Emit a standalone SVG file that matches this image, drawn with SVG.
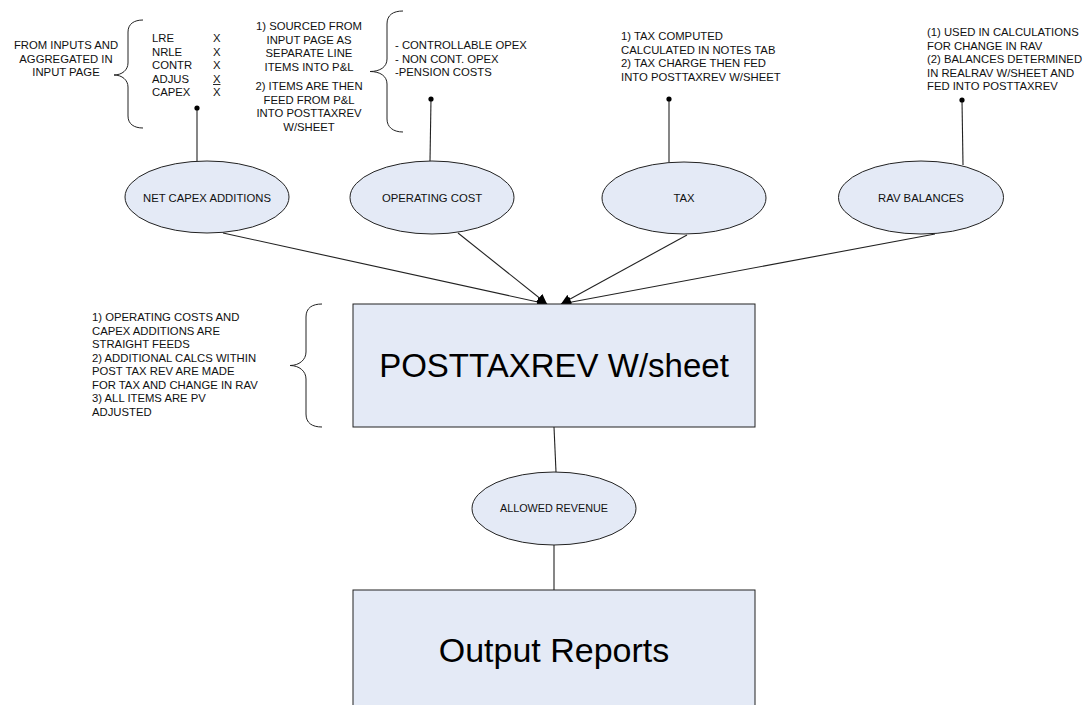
<svg xmlns="http://www.w3.org/2000/svg" width="1088" height="705" viewBox="0 0 1088 705">
<defs>
<style>
.t{font-family:"Liberation Sans",Arial,sans-serif;font-size:11.3px;fill:#111}
.big{font-family:"Liberation Sans",Arial,sans-serif;font-size:33px;fill:#000}
.node{fill:#e4eaf6;stroke:#222;stroke-width:1}
.ln{stroke:#222;stroke-width:1.1;fill:none}
.br{stroke:#222;stroke-width:1;fill:none}
</style>
<marker id="ah" viewBox="0 0 10 10" refX="10" refY="5" markerWidth="10" markerHeight="10" markerUnits="userSpaceOnUse" orient="auto">
<path d="M0,0 L10,5 L0,10 Z" fill="#000"/>
</marker>
</defs>
<rect width="1088" height="705" fill="#fff"/>

<g id="connectors">
<line class="ln" x1="223" y1="233" x2="547" y2="304" marker-end="url(#ah)"/>
<line class="ln" x1="458" y1="233" x2="547" y2="304" marker-end="url(#ah)"/>
<line class="ln" x1="687" y1="235" x2="561" y2="304" marker-end="url(#ah)"/>
<line class="ln" x1="935" y1="234" x2="561" y2="304" marker-end="url(#ah)"/>
<line class="ln" x1="554" y1="427" x2="556" y2="472"/>
<line class="ln" x1="554" y1="545" x2="554" y2="590"/>
<line class="ln" x1="197" y1="108" x2="197" y2="161"/>
<line class="ln" x1="431" y1="99" x2="430" y2="161"/>
<line class="ln" x1="669" y1="99" x2="669" y2="162"/>
<line class="ln" x1="962" y1="100" x2="963" y2="165"/>
<circle cx="197" cy="108" r="2.6" fill="#000"/>
<circle cx="431" cy="99" r="2.6" fill="#000"/>
<circle cx="669" cy="99" r="2.6" fill="#000"/>
<circle cx="962" cy="100" r="2.6" fill="#000"/>
</g>

<g id="net-capex">
<ellipse class="node" cx="207" cy="197" rx="82" ry="36"/>
<text class="t" x="207" y="201.5" text-anchor="middle">NET CAPEX ADDITIONS</text>
</g>
<g id="operating-cost">
<ellipse class="node" cx="432" cy="197.5" rx="82" ry="36.5"/>
<text class="t" x="432" y="201.5" text-anchor="middle">OPERATING COST</text>
</g>
<g id="tax">
<ellipse class="node" cx="684" cy="198" rx="82" ry="36"/>
<text class="t" x="684" y="202" text-anchor="middle">TAX</text>
</g>
<g id="rav-balances">
<ellipse class="node" cx="921" cy="197.5" rx="82.5" ry="36.5"/>
<text class="t" x="921" y="201.5" text-anchor="middle">RAV BALANCES</text>
</g>

<g id="posttaxrev">
<rect class="node" x="353" y="304" width="402" height="123"/>
<text class="big" x="554" y="377" text-anchor="middle">POSTTAXREV W/sheet</text>
</g>
<g id="allowed-revenue">
<ellipse class="node" cx="554" cy="508.5" rx="82" ry="36.5"/>
<text class="t" x="554" y="512" text-anchor="middle" style="font-size:10.8px">ALLOWED REVENUE</text>
</g>
<g id="output-reports">
<rect class="node" x="353" y="590" width="402" height="130"/>
<text class="big" x="554" y="662" text-anchor="middle" style="font-size:34px">Output Reports</text>
</g>

<g id="note-inputs">
<text class="t" text-anchor="middle"><tspan x="66" y="49">FROM INPUTS AND</tspan><tspan x="66" y="62.5">AGGREGATED IN</tspan><tspan x="66" y="76">INPUT PAGE</tspan></text>
<path class="br" d="M143,20 C134,20 128,24 128,32 L128,63 C128,70 122,75 114,75 C122,75 128,80 128,87 L128,116 C128,124 134,128 143,128"/>
<text class="t"><tspan x="152" y="42">LRE</tspan><tspan x="152" y="55.5">NRLE</tspan><tspan x="152" y="69">CONTR</tspan><tspan x="152" y="82.5">ADJUS</tspan><tspan x="152" y="96">CAPEX</tspan></text>
<text class="t"><tspan x="213" y="42">X</tspan><tspan x="213" y="55.5">X</tspan><tspan x="213" y="69">X</tspan><tspan x="213" y="82.5">X</tspan><tspan x="213" y="96">X</tspan></text>
<line x1="213" y1="84.5" x2="220.5" y2="84.5" stroke="#111" stroke-width="0.9"/>
</g>

<g id="note-sourced">
<text class="t" text-anchor="middle"><tspan x="309" y="30">1) SOURCED FROM</tspan><tspan x="309" y="43.5">INPUT PAGE AS</tspan><tspan x="309" y="57">SEPARATE LINE</tspan><tspan x="309" y="70.5">ITEMS INTO P&amp;L</tspan><tspan x="309" y="90">2) ITEMS ARE THEN</tspan><tspan x="309" y="103.5">FEED FROM P&amp;L</tspan><tspan x="309" y="117">INTO POSTTAXREV</tspan><tspan x="309" y="130.5">W/SHEET</tspan></text>
<path class="br" d="M403,11 C393,11 387,15 387,24 L387,59 C387,67 380,71.5 370,71.5 C380,71.5 387,76 387,84 L387,119 C387,127 393,132 403,132"/>
</g>

<g id="note-opex">
<text class="t"><tspan x="395" y="49">- CONTROLLABLE OPEX</tspan><tspan x="395" y="62.5">- NON CONT. OPEX</tspan><tspan x="395" y="76">-PENSION COSTS</tspan></text>
</g>

<g id="note-tax">
<text class="t"><tspan x="621" y="40">1) TAX COMPUTED</tspan><tspan x="621" y="53.5">CALCULATED IN NOTES TAB</tspan><tspan x="621" y="67">2) TAX CHARGE THEN FED</tspan><tspan x="621" y="80.5">INTO POSTTAXREV W/SHEET</tspan></text>
</g>

<g id="note-rav">
<text class="t"><tspan x="927" y="36">(1) USED IN CALCULATIONS</tspan><tspan x="927" y="49.5">FOR CHANGE IN RAV</tspan><tspan x="927" y="63">(2) BALANCES DETERMINED</tspan><tspan x="927" y="76.5">IN REALRAV W/SHEET AND</tspan><tspan x="927" y="90">FED INTO POSTTAXREV</tspan></text>
</g>

<g id="note-posttaxrev">
<text class="t"><tspan x="92" y="321">1) OPERATING COSTS AND</tspan><tspan x="92" y="334.5">CAPEX ADDITIONS ARE</tspan><tspan x="92" y="348">STRAIGHT FEEDS</tspan><tspan x="92" y="361.5">2) ADDITIONAL CALCS WITHIN</tspan><tspan x="92" y="375">POST TAX REV ARE MADE</tspan><tspan x="92" y="388.5">FOR TAX AND CHANGE IN RAV</tspan><tspan x="92" y="402">3) ALL ITEMS ARE PV</tspan><tspan x="92" y="415.5">ADJUSTED</tspan></text>
<path class="br" d="M322,304 C312,304 306,308 306,317 L306,352 C306,360 299,365.5 290,365.5 C299,365.5 306,371 306,379 L306,414 C306,423 312,427 322,427"/>
</g>
</svg>
